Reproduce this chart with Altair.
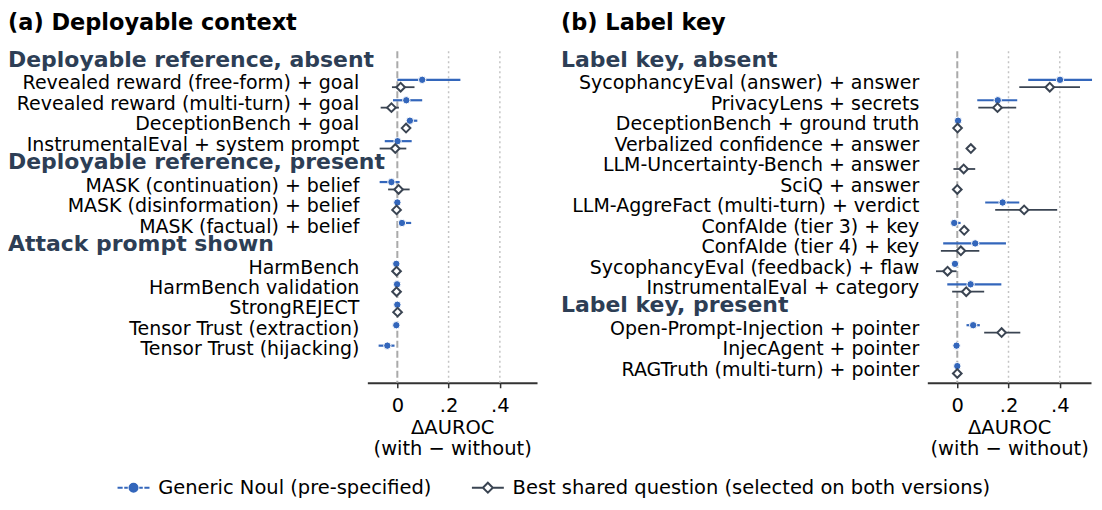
import altair as alt
import pandas as pd

FONT = "DejaVu Sans"
BLUE = "#3366bb"
DARK = "#3a4452"
HEAD = "#2d3e55"
GEN = "Generic Noul (pre-specified)"
SH = "Best shared question (selected on both versions)"

# ---------------- panel (a) ----------------
a_rows = ["Deployable reference, absent", "Revealed reward (free-form) + goal",
          "Revealed reward (multi-turn) + goal", "DeceptionBench + goal",
          "InstrumentalEval + system prompt", "Deployable reference, present",
          "MASK (continuation) + belief", "MASK (disinformation) + belief",
          "MASK (factual) + belief", "Attack prompt shown", "HarmBench",
          "HarmBench validation", "StrongREJECT", "Tensor Trust (extraction)",
          "Tensor Trust (hijacking)"]
a_head = [1, 0, 0, 0, 0, 1, 0, 0, 0, 1, 0, 0, 0, 0, 0]
a_gen = [None, 0.097, 0.035, 0.049, 0.001, None, -0.023, 0.000, 0.018, None,
         -0.004, -0.001, 0.000, -0.004, -0.039]
a_gen_lo = [None, 0.000, -0.017, 0.040, -0.049, None, -0.069, -0.005, 0.006, None,
            -0.006, -0.003, -0.003, -0.006, -0.073]
a_gen_hi = [None, 0.246, 0.097, 0.078, 0.056, None, 0.009, 0.005, 0.054, None,
            -0.002, 0.002, 0.003, -0.002, -0.011]
a_sh = [None, 0.013, -0.023, 0.034, -0.008, None, 0.005, -0.003, None, None,
        -0.003, -0.003, 0.001, None, None]
a_sh_lo = [None, -0.021, -0.065, 0.028, -0.069, None, -0.036, -0.006, None, None,
           -0.005, -0.005, -0.002, None, None]
a_sh_hi = [None, 0.067, 0.006, 0.040, 0.035, None, 0.048, 0.000, None, None,
           -0.001, -0.001, 0.004, None, None]

# ---------------- panel (b) ----------------
b_rows = ["Label key, absent", "SycophancyEval (answer) + answer", "PrivacyLens + secrets",
          "DeceptionBench + ground truth", "Verbalized confidence + answer",
          "LLM-Uncertainty-Bench + answer", "SciQ + answer",
          "LLM-AggreFact (multi-turn) + verdict", "ConfAIde (tier 3) + key",
          "ConfAIde (tier 4) + key", "SycophancyEval (feedback) + flaw",
          "InstrumentalEval + category", "Label key, present",
          "Open-Prompt-Injection + pointer", "InjecAgent + pointer",
          "RAGTruth (multi-turn) + pointer"]
b_head = [1, 0, 0, 0, 0, 0, 0, 0, 0, 0, 0, 0, 1, 0, 0, 0]
b_gen = [None, 0.401, 0.158, 0.003, None, None, None, 0.177, -0.012, 0.070, -0.009,
         0.052, None, 0.062, -0.003, 0.000]
b_gen_lo = [None, 0.277, 0.078, 0.000, None, None, None, 0.109, -0.018, -0.055, -0.013,
            -0.039, None, 0.036, -0.006, -0.003]
b_gen_hi = [None, 0.526, 0.234, 0.006, None, None, None, 0.242, 0.013, 0.190, -0.005,
            0.172, None, 0.088, 0.000, 0.003]
b_sh = [None, 0.361, 0.157, 0.001, 0.053, 0.025, 0.000, 0.261, 0.027, 0.014, -0.038,
        0.035, None, 0.173, None, 0.000]
b_sh_lo = [None, 0.242, 0.082, -0.002, 0.050, -0.015, -0.003, 0.148, 0.024, -0.064, -0.083,
           -0.020, None, 0.105, None, -0.003]
b_sh_hi = [None, 0.479, 0.230, 0.004, 0.056, 0.070, 0.003, 0.390, 0.030, 0.086, -0.003,
           0.105, None, 0.246, None, 0.003]

grid_dotted = [0.2, 0.4]
grid_zero = [0.0]
tick_vals = [0, 0.2, 0.4]
y_domain = [-0.571, 15.634]

ITEM_FS = 19
AXIS_FS = 19.5
LEG_FS = 19.5
HEAD_FS = 22
TITLE_FS = 22.5
OFF = 3.7

PATH_GEN = ("M-2,0H-1.36M-1.16,0H-0.72M0.72,0H1.16M1.36,0H2"
            "M0.5,0A0.5,0.5,0,1,1,-0.5,0A0.5,0.5,0,1,1,0.5,0Z")
PATH_SH = "M-2,0H-0.64M0.64,0H2M0,-0.62L0.62,0L0,0.62L-0.62,0Z"


def build_frames(rows, head, gen, glo, ghi, sh, slo, shi):
    idx = list(range(len(rows)))
    labs = pd.DataFrame({"pos": idx, "label": rows, "head": head})
    g = pd.DataFrame({"pos": idx, "val": gen, "lo": glo, "hi": ghi}).dropna()
    s = pd.DataFrame({"pos": idx, "val": sh, "lo": slo, "hi": shi}).dropna()
    return labs, g, s


def panel(title, rows, head, gen, glo, ghi, sh, slo, shi, head_x, width, x_domain,
          legend=False):
    labs, g, s = build_frames(rows, head, gen, glo, ghi, sh, slo, shi)
    xs = alt.Scale(domain=x_domain, nice=False, zero=False)
    ys = alt.Scale(domain=y_domain, reverse=True, nice=False, zero=False)
    xaxis = alt.Axis(values=tick_vals,
                     labelExpr="datum.value == 0 ? '0' : replace(format(datum.value, '.1f'), '0.', '.')",
                     title=["\u0394AUROC", "(with \u2212 without)"], grid=False,
                     domainColor="#333333", domainWidth=2, tickColor="#333333",
                     tickWidth=1.5, tickSize=5, labelFontSize=AXIS_FS, titleFontSize=AXIS_FS,
                     titleFontWeight="normal", labelColor="black", titleColor="black",
                     labelPadding=9, titlePadding=3, labelFont=FONT, titleFont=FONT,
                     titleLineHeight=21)

    zero = alt.Chart(pd.DataFrame({"v": grid_zero})).mark_rule(
        color="#aaaaaa", strokeWidth=2, strokeDash=[7, 3]).encode(
        x=alt.X("v:Q", scale=xs, axis=xaxis))
    dots = alt.Chart(pd.DataFrame({"v": grid_dotted})).mark_rule(
        color="#c4c4c4", strokeWidth=1.5, strokeDash=[2, 3]).encode(x=alt.X("v:Q", scale=xs))

    sh_ci = alt.Chart(s).mark_rule(color=DARK, strokeWidth=1.8, yOffset=OFF).encode(
        x=alt.X("lo:Q", scale=xs), x2="hi:Q", y=alt.Y("pos:Q", scale=ys, axis=None))
    gen_ci = alt.Chart(g).mark_rule(color=BLUE, strokeWidth=2.2, yOffset=-OFF).encode(
        x=alt.X("lo:Q", scale=xs), x2="hi:Q", y=alt.Y("pos:Q", scale=ys, axis=None))
    gen_pt = alt.Chart(g).mark_point(shape="circle", filled=True, fill=BLUE, stroke="white",
                                     strokeWidth=1, size=55, opacity=1, yOffset=-OFF).encode(
        x=alt.X("val:Q", scale=xs), y=alt.Y("pos:Q", scale=ys, axis=None))
    sh_pt = alt.Chart(s).mark_point(shape="diamond", filled=True, fill="white", stroke=DARK,
                                    strokeWidth=2, size=75, opacity=1, yOffset=OFF).encode(
        x=alt.X("val:Q", scale=xs), y=alt.Y("pos:Q", scale=ys, axis=None))

    items = alt.Chart(labs[labs["head"] == 0]).mark_text(
        align="right", baseline="middle", fontSize=ITEM_FS, font=FONT,
        color="black").encode(
        x=alt.value(-8), y=alt.Y("pos:Q", scale=ys, axis=None), text="label:N")
    heads = alt.Chart(labs[labs["head"] == 1]).mark_text(
        align="left", baseline="middle", dy=-3, fontSize=HEAD_FS, font=FONT, fontWeight="bold",
        color=HEAD).encode(
        x=alt.value(head_x), y=alt.Y("pos:Q", scale=ys, axis=None), text="label:N")

    layers = [zero, dots, sh_ci, gen_ci, gen_pt, sh_pt, items, heads]
    if legend:
        leg = alt.Legend(title=None, orient="none", legendX=-244, legendY=427,
                         direction="horizontal", columns=2, symbolSize=256,
                         symbolStrokeWidth=2, symbolOpacity=1, labelOffset=15,
                         columnPadding=35, labelLimit=1000, labelFontSize=LEG_FS,
                         labelFont=FONT, labelColor="black")
        ldf = pd.DataFrame({"series": [GEN, SH]})
        drv = alt.Chart(ldf).mark_point(opacity=0).encode(
            x=alt.value(0), y=alt.value(0),
            shape=alt.Shape("series:N", scale=alt.Scale(domain=[GEN, SH], range=[PATH_GEN, PATH_SH]),
                            legend=leg),
            fill=alt.Fill("series:N", scale=alt.Scale(domain=[GEN, SH], range=[BLUE, "white"]),
                          legend=leg),
            stroke=alt.Stroke("series:N", scale=alt.Scale(domain=[GEN, SH], range=[BLUE, DARK]),
                              legend=leg))
        layers.append(drv)

    return alt.layer(*layers).properties(
        width=width, height=332,
        title=alt.TitleParams(title, anchor="start", fontSize=TITLE_FS, font=FONT,
                              fontWeight="bold", color="black", offset=15))


pa = panel("(a) Deployable context", a_rows, a_head, a_gen, a_gen_lo, a_gen_hi,
           a_sh, a_sh_lo, a_sh_hi, head_x=-360, width=170, x_domain=[-0.117, 0.545])
pb = panel("(b) Label key", b_rows, b_head, b_gen, b_gen_lo, b_gen_hi,
           b_sh, b_sh_lo, b_sh_hi, head_x=-367, width=164, x_domain=[-0.117, 0.522],
           legend=True)

chart = alt.hconcat(pa, pb, spacing=24).properties(
    padding={"top": 3, "left": 0, "right": 0, "bottom": 0}).configure(
    font=FONT).configure_view(stroke=None)

chart.save("out.html", embed_options={"renderer": "svg", "actions": False})
